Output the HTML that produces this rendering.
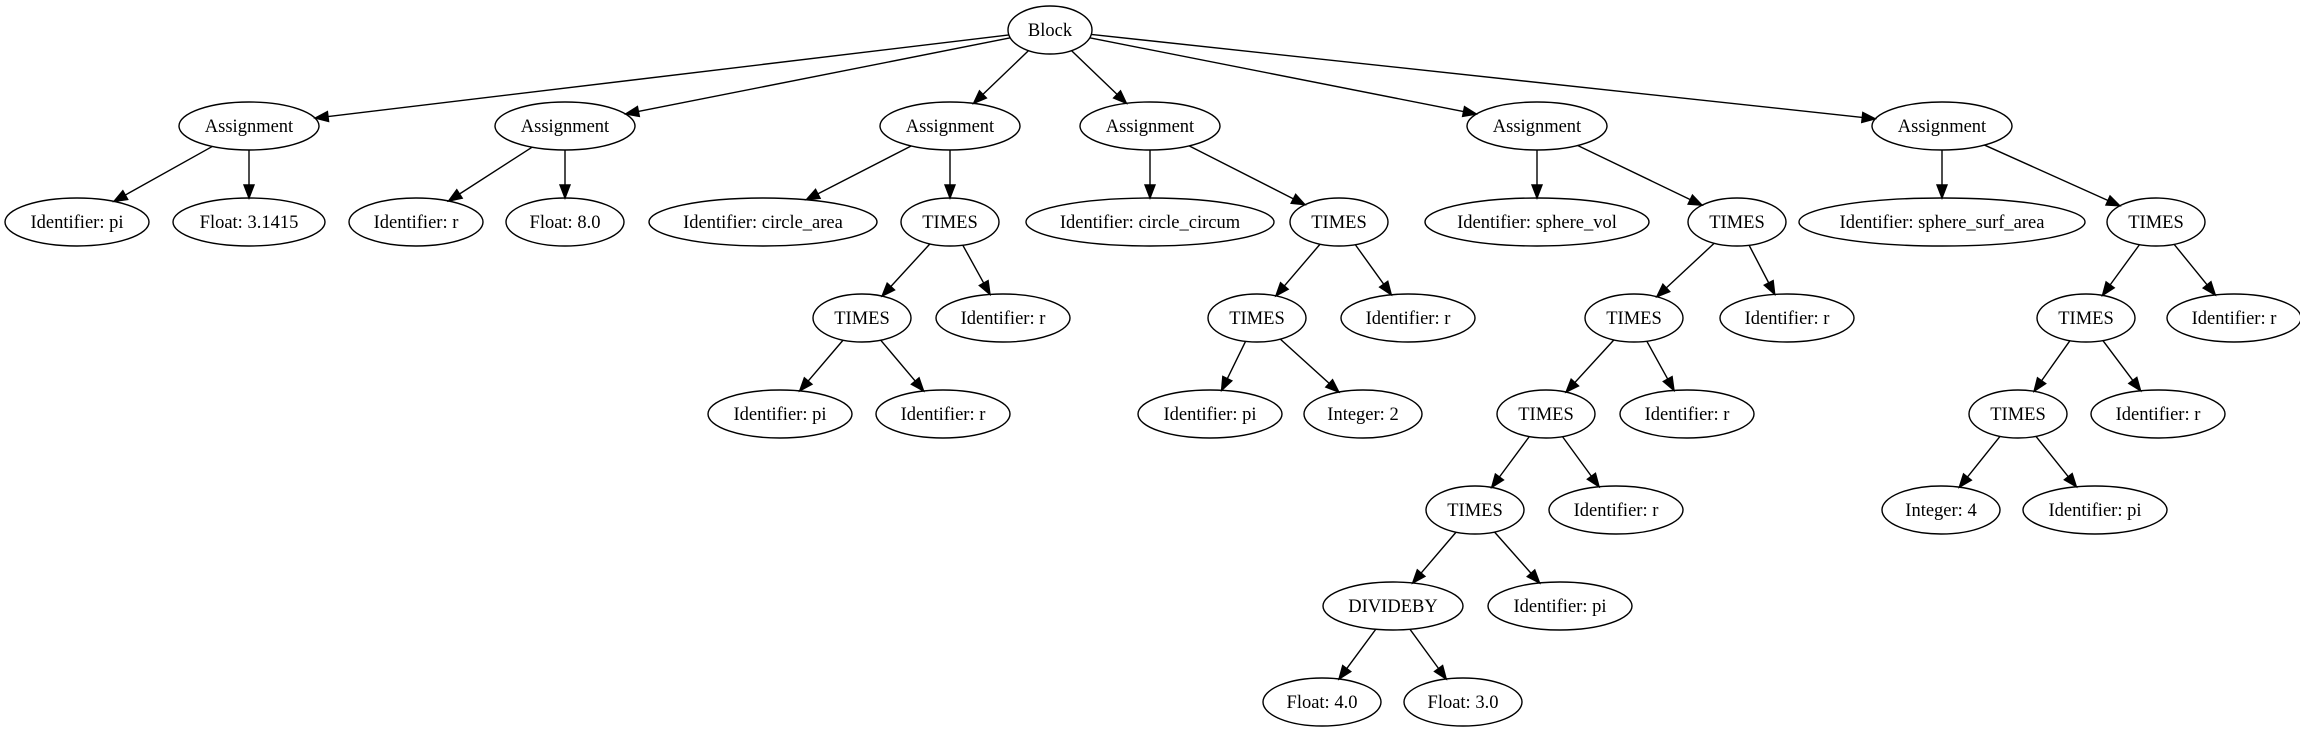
<!DOCTYPE html>
<html><head><meta charset="utf-8"><style>
html,body{margin:0;padding:0;background:#fff;width:2300px;height:731px;overflow:hidden}
svg text{font-family:"Liberation Serif",serif;font-size:18.5px;fill:#000}
</style></head><body>
<svg id="s" width="2300" height="731" viewBox="0 0 2300 731" xmlns="http://www.w3.org/2000/svg"></svg>
<script>
const Y=[30,126,222,318,414,510,606,702];
const N={
B:[1050,0,42,"Block"],
A1:[249,1,70,"Assignment"],A2:[565,1,70,"Assignment"],A3:[950,1,70,"Assignment"],A4:[1150,1,70,"Assignment"],A5:[1537,1,70,"Assignment"],A6:[1942,1,70,"Assignment"],
a1:[77,2,72,"Identifier: pi"],a2:[249,2,76,"Float: 3.1415"],
b1:[416,2,67,"Identifier: r"],b2:[565,2,59,"Float: 8.0"],
c1:[763,2,114,"Identifier: circle_area"],c2:[950,2,49,"TIMES"],
c3:[862,3,49,"TIMES"],c4:[1003,3,67,"Identifier: r"],
c5:[780,4,72,"Identifier: pi"],c6:[943,4,67,"Identifier: r"],
d1:[1150,2,124,"Identifier: circle_circum"],d2:[1339,2,49,"TIMES"],
d3:[1257,3,49,"TIMES"],d4:[1408,3,67,"Identifier: r"],
d5:[1210,4,72,"Identifier: pi"],d6:[1363,4,59,"Integer: 2"],
e1:[1537,2,112,"Identifier: sphere_vol"],e2:[1737,2,49,"TIMES"],
e3:[1634,3,49,"TIMES"],e4:[1787,3,67,"Identifier: r"],
e5:[1546,4,49,"TIMES"],e6:[1687,4,67,"Identifier: r"],
e7:[1475,5,49,"TIMES"],e8:[1616,5,67,"Identifier: r"],
e9:[1393,6,70,"DIVIDEBY"],e10:[1560,6,72,"Identifier: pi"],
e11:[1322,7,59,"Float: 4.0"],e12:[1463,7,59,"Float: 3.0"],
f1:[1942,2,143,"Identifier: sphere_surf_area"],f2:[2156,2,49,"TIMES"],
f3:[2086,3,49,"TIMES"],f4:[2234,3,67,"Identifier: r"],
f5:[2018,4,49,"TIMES"],f6:[2158,4,67,"Identifier: r"],
f7:[1941,5,59,"Integer: 4"],f8:[2095,5,72,"Identifier: pi"]
};
const E=[["B","A1"],["B","A2"],["B","A3"],["B","A4"],["B","A5"],["B","A6"],
["A1","a1"],["A1","a2"],["A2","b1"],["A2","b2"],["A3","c1"],["A3","c2"],["c2","c3"],["c2","c4"],["c3","c5"],["c3","c6"],
["A4","d1"],["A4","d2"],["d2","d3"],["d2","d4"],["d3","d5"],["d3","d6"],
["A5","e1"],["A5","e2"],["e2","e3"],["e2","e4"],["e3","e5"],["e3","e6"],["e5","e7"],["e5","e8"],["e7","e9"],["e7","e10"],["e9","e11"],["e9","e12"],
["A6","f1"],["A6","f2"],["f2","f3"],["f2","f4"],["f3","f5"],["f3","f6"],["f5","f7"],["f5","f8"]];
const RY=24;let h="";
function bd(n,dx,dy){const rx=n[2];const t=1/Math.sqrt(dx*dx/(rx*rx)+dy*dy/(RY*RY));return t;}
for(const [p,c] of E){const P=N[p],C=N[c];const px=P[0],py=Y[P[1]],cx=C[0],cy=Y[C[1]];
let dx=cx-px,dy=cy-py;const L=Math.hypot(dx,dy);
const t1=bd(P,dx,dy),t2=bd(C,-dx,-dy);
const sx=px+dx*t1,sy=py+dy*t1,ex=cx-dx*t2,ey=cy-dy*t2;
const ux=dx/L,uy=dy/L,al=13,aw=5;
const bx=ex-ux*al,by=ey-uy*al;
h+=`<line x1="${sx}" y1="${sy}" x2="${bx}" y2="${by}" stroke="#000" stroke-width="1.4"/>`;
h+=`<polygon points="${ex},${ey} ${bx-uy*aw},${by+ux*aw} ${bx+uy*aw},${by-ux*aw}" fill="#000" stroke="#000" stroke-width="1.4"/>`;}
for(const k in N){const n=N[k];const y=Y[n[1]];
h+=`<ellipse cx="${n[0]}" cy="${y}" rx="${n[2]}" ry="${RY}" fill="none" stroke="#000" stroke-width="1.4"/>`;
h+=`<text x="${n[0]}" y="${y+6}" text-anchor="middle">${n[3]}</text>`;}
document.getElementById("s").innerHTML=h;
</script>
</body></html>
